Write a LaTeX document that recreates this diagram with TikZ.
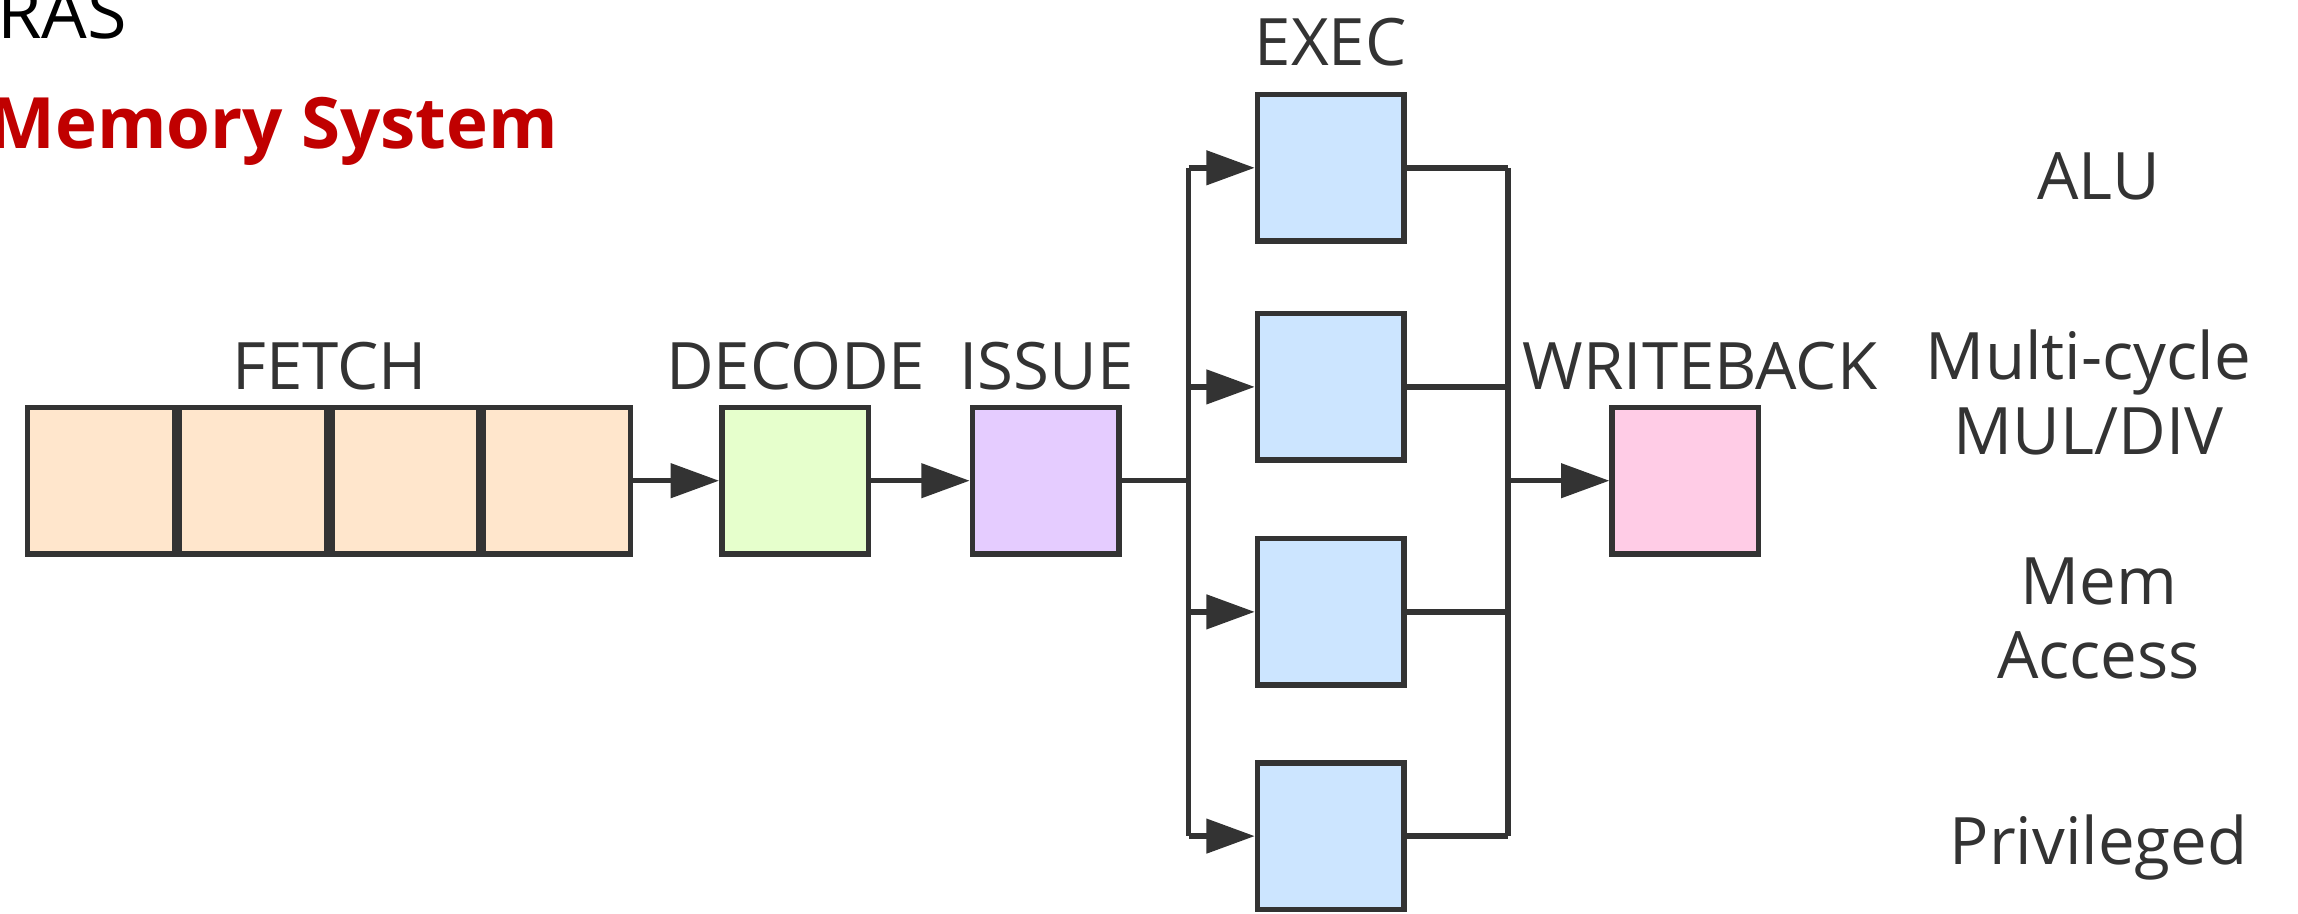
\documentclass[tikz,border=0pt]{standalone}
\usepackage{fontspec}
\setmainfont{Open Sans}
\usetikzlibrary{arrows.meta}
\definecolor{ink}{HTML}{333333}
\definecolor{fetchfill}{HTML}{FFE6CC}
\definecolor{decfill}{HTML}{E6FFCC}
\definecolor{issfill}{HTML}{E5CCFF}
\definecolor{execfill}{HTML}{CCE5FF}
\definecolor{wbfill}{HTML}{FFCCE6}
\definecolor{titlered}{HTML}{C00000}
\tikzset{
  stage/.style={draw=ink, line width=2.1pt, minimum width=2.0cm, minimum height=2.0cm, inner sep=0pt},
  lbl/.style={text=ink, font=\fontsize{25.4}{29}\selectfont, inner sep=0pt},
  wire/.style={draw=ink, line width=2.1pt},
  arr/.style={wire, -{Triangle[length=0.66cm,width=0.46cm]}},
}
\begin{document}
\begin{tikzpicture}[x=0.2mm, y=-0.2mm]
  \useasboundingbox (0,0) rectangle (1568,623);
  % titolo
  \node[anchor=base east, inner sep=0pt, font=\fontsize{28}{34}\selectfont] (ras) at (87,26) {RAS};
  \node[anchor=base east, inner sep=0pt, text=titlered, font=\fontsize{27.5}{33}\selectfont\bfseries] (memsys) at (381,101) {Memory System};
  % stadi
  \foreach \i/\x in {1/68.9, 2/172.6, 3/276.4, 4/380.1} {
    \node[stage, fill=fetchfill] (f\i) at (\x,328) {};
  }
  \node[stage, fill=decfill] (dec) at (542.5,328) {};
  \node[stage, fill=issfill] (iss) at (713.5,328) {};
  \foreach \i/\y in {1/114.5, 2/264, 3/417.5, 4/570.5} {
    \node[stage, fill=execfill] (e\i) at (908,\y) {};
  }
  \node[stage, fill=wbfill] (wb) at (1150,328) {};
  % etichette
  \node[lbl, anchor=base] (lfetch) at (225,266) {FETCH};
  \node[lbl, anchor=base] (ldec) at (543,266) {DECODE};
  \node[lbl, anchor=base] (liss) at (714,266) {ISSUE};
  \node[lbl, anchor=base] (lexec) at (908,45) {EXEC};
  \node[lbl, anchor=base] (lwb) at (1160,266) {WRITEBACK};
  \node[lbl, anchor=base] (alu) at (1432,136) {ALU};
  \node[lbl, align=center] (muldiv) at (1425,268) {Multi-cycle\\MUL/DIV};
  \node[lbl, align=center] (mem) at (1432,422) {Mem\\Access};
  \node[lbl, anchor=base] (priv) at (1432,590) {Privileged};
  % collegamenti
  \coordinate (split) at (811,328);
  \coordinate (join) at (1029,328);
  \draw[arr] (f4.east) -- (dec.west);
  \draw[arr] (dec.east) -- (iss.west);
  \draw[wire] (iss.east) -- (split);
  \draw[wire] (split |- e1.west) -- (split |- e4.west);
  \draw[wire] (join |- e1.east) -- (join |- e4.east);
  \foreach \i in {1,...,4} {
    \draw[arr] (split |- e\i.west) -- (e\i.west);
    \draw[wire] (e\i.east) -- (join |- e\i.east);
  }
  \draw[arr] (join) -- (wb.west);
\end{tikzpicture}
\end{document}
